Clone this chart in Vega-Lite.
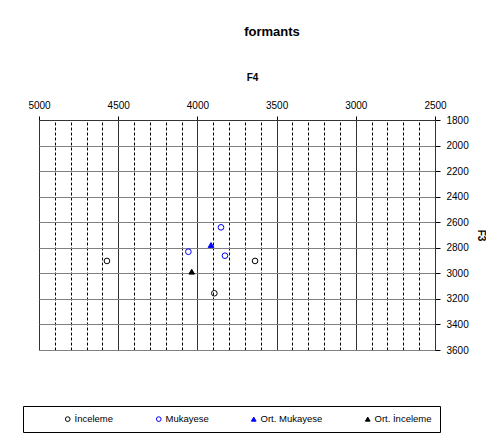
{
  "$schema": "https://vega.github.io/schema/vega-lite/v6.json",
  "width": 396,
  "height": 230,
  "autosize": {"type": "none"},
  "padding": {"left": 39, "top": 120, "right": 51, "bottom": 91},
  "background": "white",
  "title": {"text": "formants", "fontSize": 13, "fontWeight": "bold", "font": "Liberation Sans", "color": "#000", "dx": 35, "offset": 33},
  "config": {
    "font": "Liberation Sans",
    "view": {"stroke": "#d0d0d0", "strokeWidth": 1},
    "axis": {"labelColor": "#000", "titleColor": "#000", "labelFont": "Liberation Sans", "titleFont": "Liberation Sans", "labelFontSize": 10, "titleFontSize": 10, "titleFontWeight": "bold"},
    "legend": {"orient": "none", "legendX": -16, "legendY": 286, "direction": "horizontal", "titleOrient": "left", "titlePadding": 32, "strokeColor": "#000", "fillColor": "white", "padding": 8, "columnPadding": 40, "labelFontSize": 9.5, "labelColor": "#000", "symbolSize": 22, "symbolStrokeWidth": 1, "labelOffset": 2,
      "labelExpr": "datum.label === 'Ort. İnceleme' ? datum.label + '\u00a0\u00a0\u00a0\u00a0\u00a0\u00a0\u00a0\u00a0\u00a0\u00a0\u00a0' : datum.label"}
  },
  "data": {
    "values": [
      {"series": "İnceleme", "F4": 4571, "F3": 2903},
      {"series": "İnceleme", "F4": 3636, "F3": 2903},
      {"series": "İnceleme", "F4": 3893, "F3": 3156},
      {"series": "Mukayese", "F4": 3851, "F3": 2640},
      {"series": "Mukayese", "F4": 4057, "F3": 2831},
      {"series": "Mukayese", "F4": 3826, "F3": 2862},
      {"series": "Ort. Mukayese", "F4": 3914, "F3": 2778},
      {"series": "Ort. İnceleme", "F4": 4036, "F3": 2987}
    ]
  },
  "layer": [
    {
      "mark": {"type": "point", "opacity": 0},
      "encoding": {
        "x": {
          "field": "F4", "type": "quantitative",
          "scale": {"domain": [2500, 5000], "reverse": true, "nice": false, "zero": false},
          "axis": {"orient": "bottom", "labels": false, "ticks": false, "domain": false, "title": null, "grid": true, "gridDash": [3, 2], "gridColor": "#000", "gridWidth": 1,
            "values": [4900, 4800, 4700, 4600, 4400, 4300, 4200, 4100, 3900, 3800, 3700, 3600, 3400, 3300, 3200, 3100, 2900, 2800, 2700, 2600]}
        }
      }
    },
    {
      "mark": {"type": "point", "filled": false, "strokeWidth": 1, "size": 32, "opacity": 1},
      "encoding": {
        "x": {
          "field": "F4", "type": "quantitative",
          "scale": {"domain": [2500, 5000], "reverse": true, "nice": false, "zero": false},
          "axis": {"orient": "top", "values": [5000, 4500, 4000, 3500, 3000, 2500], "format": "d", "grid": true, "gridColor": "#333", "gridWidth": 1, "domain": true, "domainColor": "#333", "tickColor": "#000", "tickSize": 4, "labelPadding": 6, "title": "F4", "titlePadding": 18, "titleX": 213, "labelFlush": false}
        },
        "y": {
          "field": "F3", "type": "quantitative",
          "scale": {"domain": [1800, 3600], "reverse": true, "nice": false, "zero": false},
          "axis": {"orient": "right", "values": [1800, 2000, 2200, 2400, 2600, 2800, 3000, 3200, 3400, 3600], "format": "d", "grid": true, "gridColor": "#808080", "gridWidth": 1, "domain": true, "domainColor": "#333", "tickColor": "#000", "tickSize": 5, "labelPadding": 6, "title": "F3", "titlePadding": 7, "labelFlush": false}
        },
        "color": {
          "field": "series", "type": "nominal",
          "scale": {"domain": ["İnceleme", "Mukayese", "Ort. Mukayese", "Ort. İnceleme"], "range": ["#000000", "#0000ff", "#0000ff", "#000000"]},
          "legend": {"title": "\u00a0"}
        },
        "fill": {
          "field": "series", "type": "nominal",
          "scale": {"domain": ["İnceleme", "Mukayese", "Ort. Mukayese", "Ort. İnceleme"], "range": ["transparent", "transparent", "#0000ff", "#000000"]},
          "legend": {"title": "\u00a0"}
        },
        "shape": {
          "field": "series", "type": "nominal",
          "scale": {"domain": ["İnceleme", "Mukayese", "Ort. Mukayese", "Ort. İnceleme"], "range": ["circle", "circle", "triangle-up", "triangle-up"]},
          "legend": {"title": "\u00a0"}
        }
      }
    }
  ],
  "resolve": {"axis": {"x": "independent"}}
}
